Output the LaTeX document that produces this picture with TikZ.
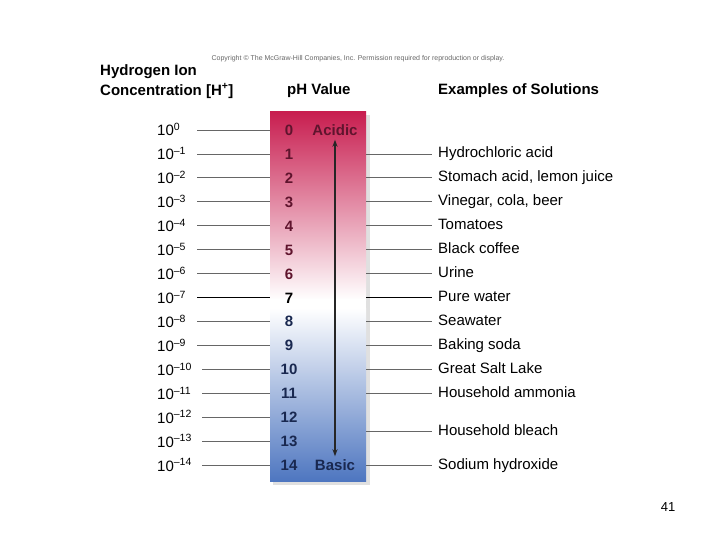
\documentclass[tikz,border=0pt]{standalone}
\usepackage{fontspec}
\setmainfont{Liberation Sans}
\usetikzlibrary{arrows.meta}
\definecolor{acidred}{RGB}{200,30,80}
\definecolor{basicblue}{RGB}{78,118,192}
\definecolor{acidtext}{RGB}{95,20,45}
\definecolor{basetext}{RGB}{25,40,80}
\begin{document}
\begin{tikzpicture}[x=1pt,y=-1pt,
    head/.style={font=\fontsize{15}{17}\selectfont\bfseries, anchor=west, inner sep=0pt},
    phnum/.style={font=\fontsize{15}{17}\selectfont\bfseries, inner sep=0pt, text height=11pt, text depth=0pt},
    conc/.style={font=\fontsize{15}{17}\selectfont, anchor=base west, inner sep=0pt},
    soln/.style={font=\fontsize{15}{17}\selectfont, anchor=west, inner sep=0pt, text height=11pt, text depth=3pt},
    tick/.style={draw=black!60, line width=0.8pt},
    neutral/.style={draw=black, line width=1.8pt}]
    \useasboundingbox (0,0) rectangle (720,540);

    % headings
    \node[font=\fontsize{7}{8}\selectfont, text=black!60] (copy) at (358,59)
        {Copyright © The McGraw-Hill Companies, Inc. Permission required for reproduction or display.};
    \node[head] (hion) at (100,72) {Hydrogen Ion};
    \node[head] (hconc) at (100,91) {Concentration [H\textsuperscript{+}]};
    \node[head] (phv) at (287,91) {pH Value};
    \node[head] (exs) at (438,91) {Examples of Solutions};

    % the scale bar
    \fill[black!12] (273,115) rectangle (370,485);
    \shade[top color=acidred, bottom color=white] (270,112) rectangle (366,300);
    \fill[white] (270,299) rectangle (366,309);
    \shade[top color=white, bottom color=basicblue] (270,308) rectangle (366,481);
    \coordinate (barL) at (270,0);
    \coordinate (barR) at (366,0);

    % concentrations and pH values
    \foreach \i in {0,...,14} {
        \pgfmathsetmacro\yy{130+23.93*\i}
        \ifnum\i=0 \def\ex{0}\else\def\ex{–\i}\fi
        \ifnum\i=7 \def\ls{neutral}\else\def\ls{tick}\fi
        \ifnum\i<7 \def\nc{acidtext}\else\def\nc{basetext}\fi
        \ifnum\i=7 \def\nc{black}\fi
        \ifnum\i<10 \def\gap{40}\else\def\gap{45}\fi
        \node[conc] (h\i) at (157,\yy+6) {10\textsuperscript{\ex}};
        \node[phnum, text=\nc] (p\i) at (289,\yy) {\i};
        \draw[\ls] ([xshift=\gap pt]h\i.base west |- p\i) -- (barL |- p\i);
    }

    \node[phnum, text=acidtext] (acid) at (335,130) {Acidic};
    \node[phnum, text=basetext] (basic) at (335,465) {Basic};
    \draw[line width=1.2pt, draw=black!85, {Stealth[length=7pt,width=5pt]}-{Stealth[length=7pt,width=5pt]}]
        ([yshift=-4pt]acid.south) -- ([yshift=3pt]basic.north);

    % examples
    \foreach \v/\t [count=\n] in {1/Hydrochloric acid, 2/{Stomach acid, lemon juice},
        3/{Vinegar, cola, beer}, 4/Tomatoes, 5/Black coffee, 6/Urine, 7/Pure water,
        8/Seawater, 9/Baking soda, 10/Great Salt Lake, 11/Household ammonia,
        12.6/Household bleach, 14/Sodium hydroxide} {
        \pgfmathsetmacro\yy{130+23.93*\v}
        \ifnum\n=7 \def\ls{neutral}\else\def\ls{tick}\fi
        \node[soln] (s\n) at (438,\yy) {\t};
        \draw[\ls] (barR |- s\n.west) -- ([xshift=-6pt]s\n.west);
    }

    \node[font=\fontsize{13}{15}\selectfont] (pg) at (668,507) {41};
\end{tikzpicture}
\end{document}
